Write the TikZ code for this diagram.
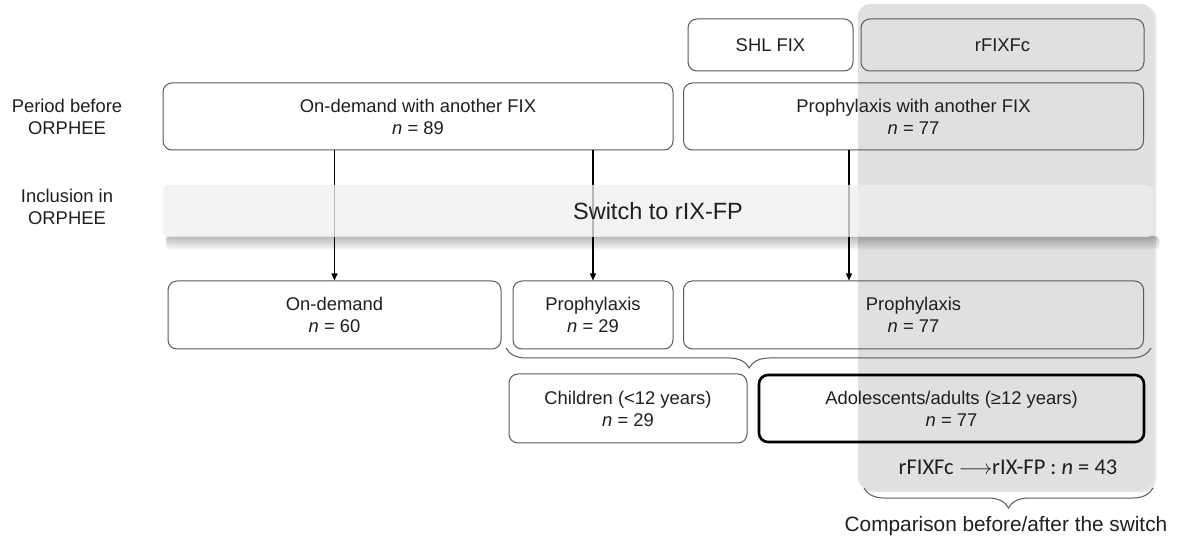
\documentclass[tikz,border=0pt]{standalone}
\usepackage{fontspec}
\setmainfont{Liberation Sans}
\newfontfamily\calibrifont{Carlito}
\usepackage{tikz}
\usetikzlibrary{calc, arrows.meta, shadows, decorations.pathreplacing}
\definecolor{panelgrey}{HTML}{E0E0E0}
\definecolor{bandgrey}{HTML}{EFEFEF}
\definecolor{boxline}{HTML}{595959}
\definecolor{txt}{HTML}{1F1F1F}

\begin{document}
\begin{tikzpicture}[x=1pt, y=-1pt, text=txt, font=\fontsize{18.4}{22}\selectfont,
    box/.style={draw=boxline, line width=1pt, rounded corners=9pt, align=center, inner sep=0pt},
    side/.style={align=center, inner sep=0pt},
    arr/.style={-{Triangle[length=7pt,width=6pt]}, line width=1.2pt, black},
    brc/.style={decorate, decoration={brace, amplitude=20pt, mirror}, draw=boxline, line width=1pt}]
      \useasboundingbox (0,0) rectangle (1179,537);
      % grey panel behind the comparison
      \node[fill=panelgrey, rounded corners=12pt, minimum width=295pt, minimum height=486pt,
        drop shadow={shadow xshift=3pt, shadow yshift=-2pt, opacity=0.2}] (cmp) at (1005.5,247) {};
      % row labels
      \node[side] (before) at (67,116.5) {Period before\\ORPHEE};
      \node[side] (incl) at (67,206.5) {Inclusion in\\ORPHEE};
      % boxes
      \node[box, minimum width=165pt, minimum height=52pt] (shl) at (770.5,45) {SHL FIX};
      \node[box, minimum width=283pt, minimum height=52pt] (rfix) at (1002.5,45) {rFIXFc};
      \node[box, minimum width=510pt, minimum height=67pt] (ondemfix) at (418,116.5) {On-demand with another FIX\\\textit{n} = 89};
      \node[box, minimum width=460pt, minimum height=67pt] (prophfix) at (913.5,116.5) {Prophylaxis with another FIX\\\textit{n} = 77};
      \node[box, minimum width=333pt, minimum height=68pt] (ondem) at (334.5,315) {On-demand\\\textit{n} = 60};
      \node[box, minimum width=160pt, minimum height=68pt] (proph29) at (593,315) {Prophylaxis\\\textit{n} = 29};
      \node[box, minimum width=460pt, minimum height=68pt] (proph77) at (913.5,315) {Prophylaxis\\\textit{n} = 77};
      \node[box, minimum width=238pt, minimum height=69pt] (children) at (628,408.5) {Children (<12 years)\\\textit{n} = 29};
      \node[box, draw=black, line width=2.6pt, minimum width=385pt, minimum height=67pt] (adol) at (951.5,408.5) {Adolescents/adults (≥12 years)\\\textit{n} = 77};
      % shadow under the switch band
      \foreach \k in {1,...,8}
        \fill[black, opacity=0.035, rounded corners=4pt] (166,236) rectangle (1156+\k*0.5,237+\k*1.6);
      % vertical arrows
      \coordinate (sw3) at (849,0);
      \draw[arr] (ondemfix.south -| ondem.north) -- (ondem.north);
      \draw[arr] (ondemfix.south -| proph29.north) -- (proph29.north);
      \draw[arr] (prophfix.south -| sw3) -- (proph77.north -| sw3);
      % switch band
      \node[fill=bandgrey, fill opacity=0.77, text opacity=1, rounded corners=6pt, minimum width=990pt,
        minimum height=52pt, font=\fontsize{23.5}{26}\selectfont] (switch) at (658,211) {Switch to rIX-FP};
      % braces
      \coordinate (b1s) at (506,348);
      \coordinate (b1e) at (1151,348);
      \coordinate (b2s) at (864,488);
      \coordinate (b2e) at (1153,488);
      \draw[brc, decoration={aspect=0.377}] (b1s) -- (b1e);
      \draw[brc, decoration={aspect=0.5}] (b2s) -- (b2e);
      \node[anchor=base, font=\calibrifont\fontsize{22.5}{24}\selectfont] (swtxt) at (1008,475) {rFIXFc $\longrightarrow$rIX-FP : \textit{n} = 43};
      \node[anchor=base, font=\fontsize{20.8}{24}\selectfont] (cmptxt) at (1006,531) {Comparison before/after the switch};
    \end{tikzpicture}
\end{document}
